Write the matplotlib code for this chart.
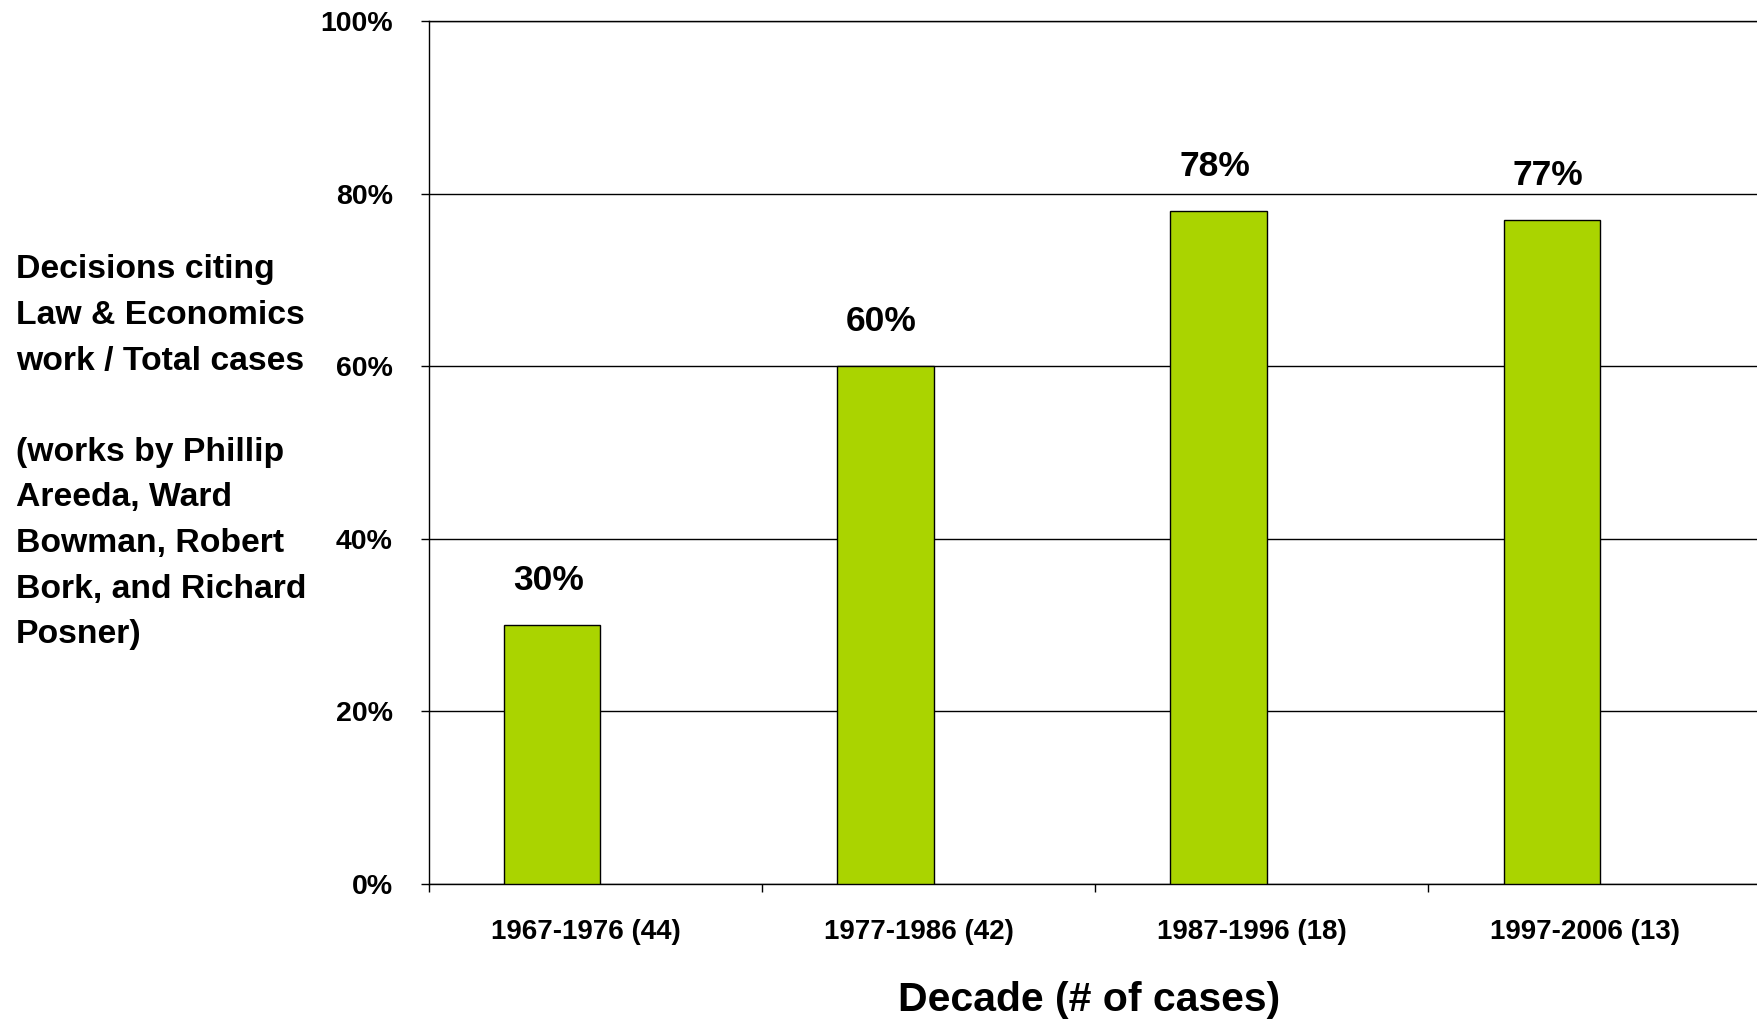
import matplotlib
matplotlib.use("Agg")
import matplotlib.pyplot as plt
import numpy as np
from matplotlib.ticker import FixedLocator, PercentFormatter

plt.rcParams['font.family'] = ['Liberation Sans', 'DejaVu Sans']
plt.rcParams['font.weight'] = 'bold'

# Share of decisions citing Law & Economics work, by decade
decades = ["1967-1976 (44)", "1977-1986 (42)", "1987-1996 (18)", "1997-2006 (13)"]
share_pct = [30, 60, 78, 77]
y_ticks = [0, 20, 40, 60, 80, 100]

bar_color = "#AAD400"

fig = plt.figure(figsize=(17.57, 10.21), dpi=100)
ax = fig.add_axes([0.2442, 0.1342, 0.7584, 0.8452])

x = np.arange(len(decades))
bar_w = 0.289
bar_x = x - 0.13
ax.bar(bar_x, share_pct, width=bar_w, color=bar_color,
       edgecolor="black", linewidth=1.0, zorder=3)

for xi, v in zip(bar_x, share_pct):
    ax.annotate(f"{v}%", xy=(xi, v), xytext=(-3, 32),
                textcoords="offset points", ha="center", va="center",
                fontsize=25.5, fontweight="bold")

ax.set_xlim(-0.5, len(decades) - 0.5)
ax.set_ylim(0, 100)

# y axis: percent ticks pointing outward, horizontal grid lines
ax.yaxis.set_major_locator(FixedLocator(y_ticks))
ax.yaxis.set_major_formatter(PercentFormatter(decimals=0))
ax.tick_params(axis="y", direction="out", length=6, width=1, pad=20,
               labelsize=20.5)
ax.yaxis.grid(True, color="black", linewidth=1.0)
ax.set_axisbelow(True)

# x axis: labels centred on categories, tick marks between them
ax.set_xticks(x - 0.03)
ax.set_xticklabels(decades, fontsize=20, fontweight="bold")
ax.tick_params(axis="x", which="major", length=0, pad=25)
ax.set_xticks(np.arange(len(decades) + 1) - 0.5, minor=True)
ax.tick_params(axis="x", which="minor", direction="out", length=6, width=1,
               color="black")

for lab in ax.get_yticklabels():
    lab.set_fontweight("bold")

ax.spines["right"].set_visible(False)
for s in ("left", "bottom", "top"):
    ax.spines[s].set_color("black")
    ax.spines[s].set_linewidth(1.0)

ax.set_xlabel("Decade (# of cases)", fontsize=29.5, fontweight="bold",
              va="center")
ax.xaxis.set_label_coords(0.495, -0.135)

fig.text(0.009, 0.557,
         "Decisions citing\nLaw & Economics\nwork / Total cases\n\n"
         "(works by Phillip\nAreeda, Ward\nBowman, Robert\nBork, and Richard\nPosner)",
         ha="left", va="center", fontsize=24.3, fontweight="bold",
         linespacing=1.61)

fig.savefig("out.png", dpi=100, facecolor="white")
